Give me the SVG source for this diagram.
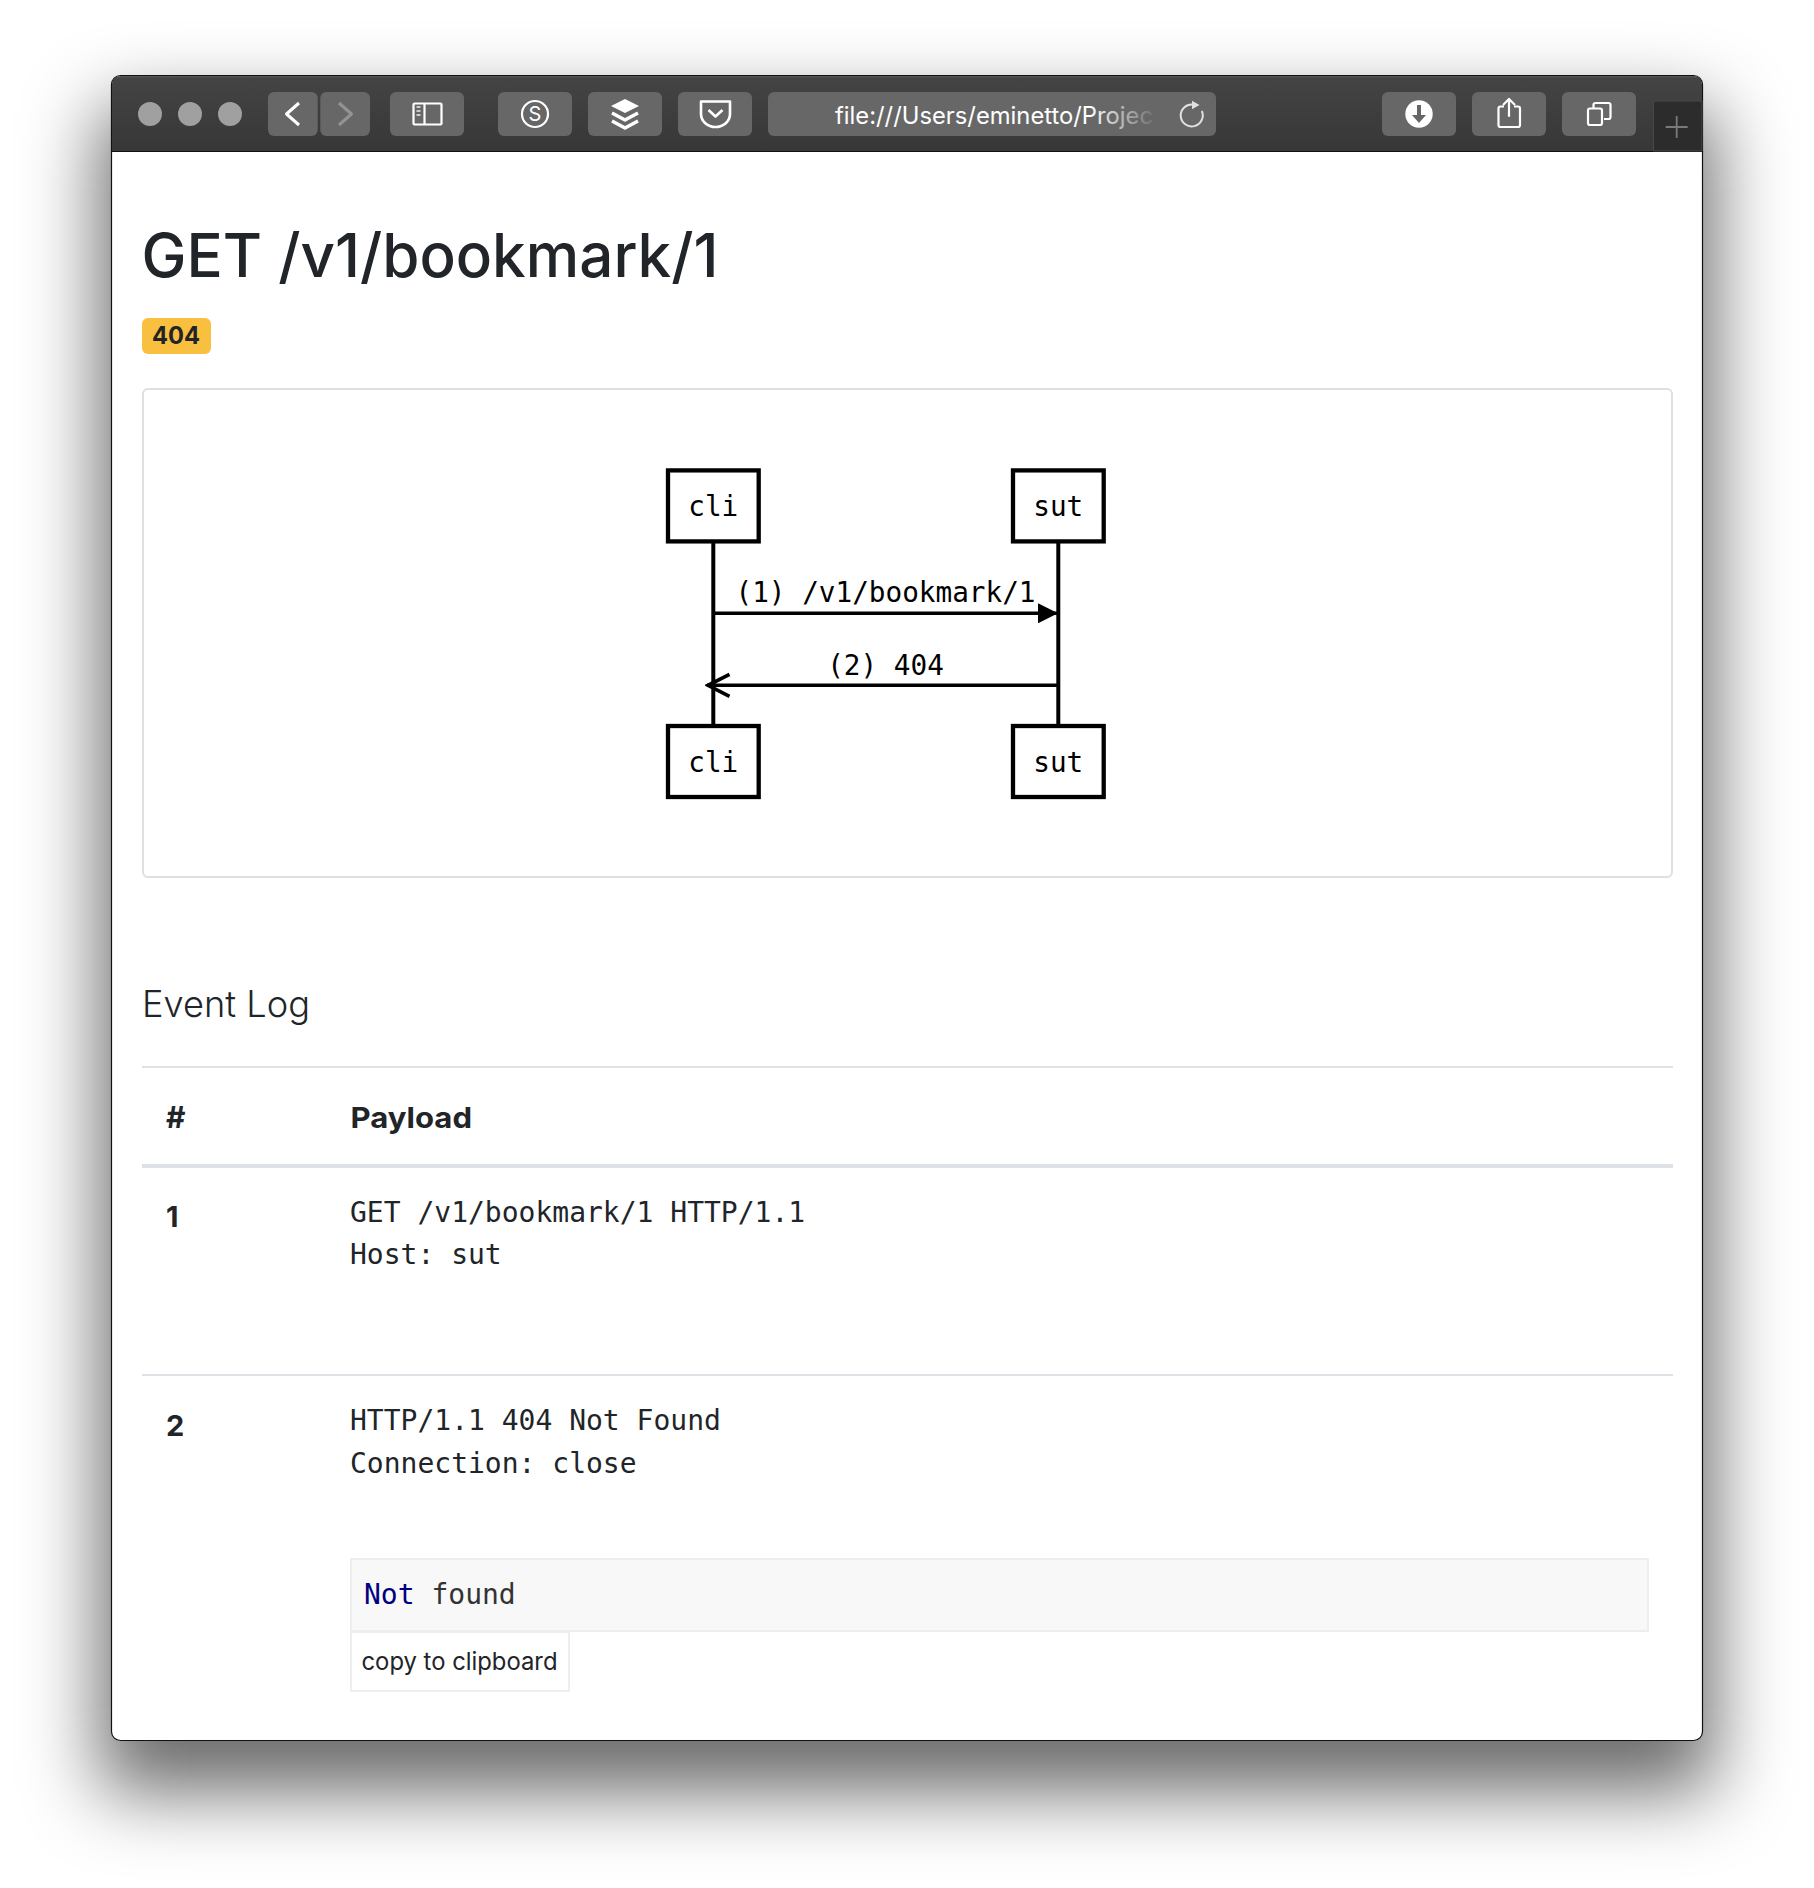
<svg xmlns="http://www.w3.org/2000/svg" width="1814" height="1888" viewBox="0 0 1814 1888">
<style>
.ui{font-family:"Inter","Liberation Sans",sans-serif;fill:#212529}
.mono{font-family:"DejaVu Sans Mono","Liberation Mono",monospace;fill:#212529;font-size:28px}
.seq{font-family:"DejaVu Sans Mono","Liberation Mono",monospace;fill:#000;font-size:27.7px;text-anchor:middle}
.box{fill:#fff;stroke:#000;stroke-width:4.300}
.line{stroke:#000;stroke-width:4;fill:none}
.msg{stroke:#000;stroke-width:3.600;fill:none}
.btn{fill:#676767}
.ic{fill:none;stroke:#fff;stroke-width:2.200;stroke-linejoin:round}
.rule{fill:#dee2e6}
</style>
<defs>
<filter id="shadow" x="-20%" y="-20%" width="140%" height="140%"><feGaussianBlur stdDeviation="38"/></filter>
<linearGradient id="bar" x1="0" y1="0" x2="0" y2="1"><stop offset="0" stop-color="#444"/><stop offset="1" stop-color="#373737"/></linearGradient>
<linearGradient id="urlfade" gradientUnits="userSpaceOnUse" x1="1090" y1="0" x2="1152" y2="0"><stop offset="0" stop-color="#fff"/><stop offset="1" stop-color="#fff" stop-opacity=".1"/></linearGradient>
<marker id="solid" markerUnits="userSpaceOnUse" viewBox="0 0 20 20" refX="20" refY="10" markerWidth="20" markerHeight="20" orient="auto"><path d="M0 0L20 10L0 20z" fill="#000"/></marker>
<marker id="open" markerUnits="userSpaceOnUse" viewBox="0 0 26 26" refX="24" refY="13" markerWidth="26" markerHeight="26" orient="auto"><path d="M1.500 2L23 13L1.500 24" fill="none" stroke="#000" stroke-width="3.600"/></marker>
</defs>
<rect width="1814" height="1888" fill="#fff"/>
<rect id="window-shadow" x="100" y="108" width="1614" height="1684" rx="12" fill="#000" fill-opacity=".58" filter="url(#shadow)"/>
<g id="window">
<rect x="111.500" y="75.500" width="1591" height="1665" rx="9" fill="#fff" stroke="#111" stroke-width="1.200"/>
<path d="M112 151V84a8 8 0 0 1 8-8H1694a8 8 0 0 1 8 8V151z" fill="url(#bar)"/>
<path d="M117 76.800H1697" stroke="#5c5c5c" stroke-width="1"/>
<path d="M111.500 151.500H1702.500" stroke="#111" stroke-width="1.200"/>
</g>
<g id="toolbar">
<circle cx="150" cy="114" r="12" fill="#a0a0a0"/><circle cx="190" cy="114" r="12" fill="#a0a0a0"/><circle cx="230" cy="114" r="12" fill="#a0a0a0"/>
<rect class="btn" x="268" y="92" width="49.700" height="44" rx="6"/>
<rect class="btn" x="320.300" y="92" width="49.700" height="44" rx="6"/>
<path class="ic" d="M299 103L286.500 114L299 125" style="stroke-width:3"/>
<path class="ic" d="M339 103L351.500 114L339 125" style="stroke:#939393;stroke-width:3"/>
<rect class="btn" x="390" y="92" width="74" height="44" rx="6"/>
<rect class="ic" x="413.500" y="103.500" width="28" height="21" rx="1"/>
<path class="ic" d="M424.500 103.500V124.500"/>
<path d="M416.500 107h4M416.500 111h4M416.500 115h4" class="ic" style="stroke:#ccc"/>
<rect class="btn" x="498" y="92" width="74" height="44" rx="6"/>
<circle class="ic" cx="535" cy="114" r="13"/>
<text x="535" y="121" text-anchor="middle" font-family="Inter,'Liberation Sans',sans-serif" font-size="20" fill="#fff">S</text>
<rect class="btn" x="588" y="92" width="74" height="44" rx="6"/>
<path d="M625 99L639 106L625 113L611 106z" fill="#fff"/>
<path d="M612 113L625 120L638 113M612 121L625 128L638 121" class="ic" style="stroke-width:3.500"/>
<rect class="btn" x="678" y="92" width="74" height="44" rx="6"/>
<path class="ic" d="M701 101.500H730V114a14.500 13 0 0 1-29 0z" style="stroke-width:2.600"/>
<path class="ic" d="M708.500 110L715.500 116.500L722.500 110" style="stroke-width:2.600"/>
<rect class="btn" x="768" y="92" width="448" height="44" rx="6"/>
<text x="835" y="123.500" font-family="Inter,'Liberation Sans',sans-serif" font-size="24" fill="url(#urlfade)" textLength="318" lengthAdjust="spacingAndGlyphs">file:///Users/eminetto/Projec</text>
<path d="M1193 104.500A11 11 0 1 0 1201.800 111" fill="none" stroke="#e0e0e0" stroke-width="2"/>
<path d="M1192 100.700L1199.500 105L1192 109.300z" fill="#e0e0e0"/>
<rect class="btn" x="1382" y="92" width="74" height="44" rx="6"/>
<circle cx="1419" cy="114" r="13.700" fill="#fff"/>
<path d="M1419 105V116" stroke="#666" stroke-width="4"/>
<path d="M1412 115H1426L1419 123z" fill="#666"/>
<rect class="btn" x="1472" y="92" width="74" height="44" rx="6"/>
<path class="ic" d="M1504 106.500H1500.500a2 2 0 0 0-2 2V125a2 2 0 0 0 2 2H1518a2 2 0 0 0 2-2V108.500a2 2 0 0 0-2-2H1514"/>
<path class="ic" d="M1509 99.500V116.700M1503 105L1509 99L1515 105"/>
<rect class="btn" x="1562" y="92" width="74" height="44" rx="6"/>
<rect class="ic" x="1588" y="108.500" width="14" height="16.500" rx="2"/>
<path class="ic" d="M1593.500 108V105a2 2 0 0 1 2-2H1608.500a2 2 0 0 1 2 2V117a2 2 0 0 1-2 2H1604"/>
<path d="M1653.500 151V101H1702V151z" fill="#2c2c2c" stroke="#484848" stroke-width="1"/>
<path d="M1676.700 116V138M1665.700 127H1687.700" stroke="#7a7a7a" stroke-width="1.800"/>
</g>
<g id="page">
<text class="ui" x="141.500" y="277.300" font-size="61" font-weight="500" textLength="577" lengthAdjust="spacingAndGlyphs">GET /v1/bookmark/1</text>
<rect x="142" y="318" width="69" height="36" rx="6" fill="#f9c03f"/>
<text class="ui" x="152" y="344" font-size="24" font-weight="700" textLength="48" lengthAdjust="spacingAndGlyphs">404</text>
<rect x="143" y="389" width="1529" height="488" rx="5" fill="#fff" stroke="#dfdfdf" stroke-width="2"/>
<text class="ui" x="142" y="1017.300" font-size="37" font-weight="300" textLength="168" lengthAdjust="spacingAndGlyphs">Event Log</text>
<rect class="rule" x="142" y="1066" width="1531" height="2"/>
<text class="ui" x="166" y="1128.300" font-size="30" font-weight="700">#</text>
<text class="ui" x="350.500" y="1128.300" font-size="29" font-weight="700" textLength="121.500" lengthAdjust="spacingAndGlyphs">Payload</text>
<rect class="rule" x="142" y="1164" width="1531" height="4"/>
<text class="ui" x="166" y="1226.700" font-size="29" font-weight="700">1</text>
<text class="mono" x="350" y="1222.300">GET /v1/bookmark/1 HTTP/1.1</text>
<text class="mono" x="350" y="1264.300">Host: sut</text>
<rect class="rule" x="142" y="1374" width="1531" height="2"/>
<text class="ui" x="166" y="1436" font-size="29" font-weight="700">2</text>
<text class="mono" x="350" y="1430">HTTP/1.1 404 Not Found</text>
<text class="mono" x="350" y="1472.500">Connection: close</text>
<rect x="351" y="1559" width="1297" height="72" fill="#f8f8f8" stroke="#eee" stroke-width="2"/>
<text class="mono" x="364" y="1604.300" style="fill:#333"><tspan style="fill:#000080">Not</tspan> found</text>
<rect x="351" y="1632" width="218" height="59" fill="#fff" stroke="#eee" stroke-width="2"/>
<text class="ui" x="361.500" y="1670" font-size="24.500" textLength="196" lengthAdjust="spacingAndGlyphs">copy to clipboard</text>
</g>
<g id="connectors">
<path id="lifeline-cli" class="line" d="M713.300 542V726"/>
<path id="lifeline-sut" class="line" d="M1058.300 542V726"/>
<path id="msg-1" class="msg" d="M713.300 613.300H1058" marker-end="url(#solid)"/>
<path id="msg-2" class="msg" d="M1058.300 685.300H707" marker-end="url(#open)"/>
</g>
<g id="label-msg-1"><text class="seq" x="885.500" y="602">(1) /v1/bookmark/1</text></g>
<g id="label-msg-2"><text class="seq" x="885.500" y="674.500">(2) 404</text></g>
<g id="cli-top"><rect class="box" x="668" y="470.400" width="90.700" height="71"/><text class="seq" x="713.300" y="515.500">cli</text></g>
<g id="sut-top"><rect class="box" x="1013" y="470.400" width="90.700" height="71"/><text class="seq" x="1058.300" y="515.500">sut</text></g>
<g id="cli-bottom"><rect class="box" x="668" y="726" width="90.700" height="71"/><text class="seq" x="713.300" y="771.500">cli</text></g>
<g id="sut-bottom"><rect class="box" x="1013" y="726" width="90.700" height="71"/><text class="seq" x="1058.300" y="771.500">sut</text></g>
</svg>
